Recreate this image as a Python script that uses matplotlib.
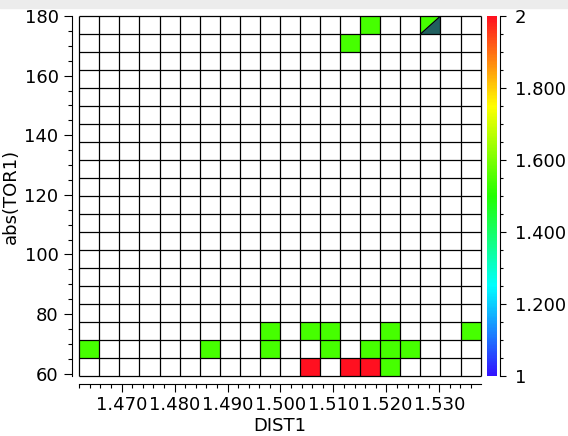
import numpy as np
import matplotlib
matplotlib.use('Agg')
import matplotlib.pyplot as plt
from matplotlib.colors import LinearSegmentedColormap
from matplotlib.patches import Rectangle
from matplotlib.ticker import MultipleLocator, FixedLocator, FixedFormatter

# bins of the 2d histogram
dist_start = 1.4620
dist_step = 0.00379
tor_start = 59.2
tor_step = 6.04
n_cols = 20
n_rows = 20

# filled cells (column index, row index, value)
cell_col = [11, 13, 14, 15, 0, 6, 9, 12, 14, 15, 16, 9, 11, 12, 15, 19, 13, 14]
cell_row = [0, 0, 0, 0, 1, 1, 1, 1, 1, 1, 1, 2, 2, 2, 2, 2, 18, 19]
cell_val = [2.0, 2.0, 2.0, 1.54, 1.54, 1.54, 1.54, 1.54, 1.54, 1.54, 1.54,
            1.54, 1.54, 1.54, 1.54, 1.54, 1.54, 1.54]

# the odd split cell in the top row
split_col = 17
split_row = 19
split_val = 1.54
split_other = '#215f5f'

x_ticks = [1.470, 1.480, 1.490, 1.500, 1.510, 1.520, 1.530]
y_ticks = [60, 80, 100, 120, 140, 160, 180]
cb_ticks = [1.0, 1.2, 1.4, 1.6, 1.8, 2.0]
cb_labels = ['1', '1.200', '1.400', '1.600', '1.800', '2']

cmap = LinearSegmentedColormap.from_list('rainbow_cb', [
    (0.0, '#3311ff'), (0.25, '#00ffff'), (0.5, '#22ff00'),
    (0.75, '#ffff00'), (1.0, '#ff1020')])
cmap.set_bad('white')

x_edges = dist_start + dist_step * np.arange(n_cols + 1)
y_edges = tor_start + tor_step * np.arange(n_rows + 1)

grid = np.full((n_rows, n_cols), np.nan)
for c, r, v in zip(cell_col, cell_row, cell_val):
    grid[r, c] = v
grid = np.ma.masked_invalid(grid)

plt.rcParams['font.size'] = 13
fig = plt.figure(figsize=(5.68, 4.36), dpi=100)
fig.patches.append(Rectangle((0, 1 - 8 / 436), 1, 8 / 436,
                             transform=fig.transFigure, color='#ececec', zorder=-1))

ax = fig.add_axes([79.3 / 568, 1 - 376 / 436, 401.3 / 568, 360 / 436])
mesh = ax.pcolormesh(x_edges, y_edges, grid, cmap=cmap, vmin=1, vmax=2,
                     edgecolors='none', linewidth=0)

# split cell drawn as two triangles
x0, x1 = x_edges[split_col], x_edges[split_col + 1]
y0, y1 = y_edges[split_row], y_edges[split_row + 1]
ax.fill([x0, x0, x1], [y0, y1, y1], color=cmap((split_val - 1) / 1.0), lw=0)
ax.fill([x0, x1, x1], [y0, y0, y1], color=split_other, lw=0)
ax.plot([x0, x1], [y0, y1], color='black', lw=0.8)

# cell borders
ax.vlines(x_edges, y_edges[0], y_edges[-1], color='black', lw=0.9, snap=True, clip_on=False)
ax.hlines(y_edges, x_edges[0], x_edges[-1], color='black', lw=0.9, snap=True, clip_on=False)

ax.set_xlim(x_edges[0], x_edges[-1])
ax.set_ylim(y_edges[0], y_edges[-1])

for s in ['top', 'right']:
    ax.spines[s].set_visible(False)
for s in ['left', 'bottom']:
    ax.spines[s].set_position(('outward', 5.4))
    ax.spines[s].set_linewidth(0.8)

ax.xaxis.set_major_locator(FixedLocator(x_ticks))
ax.xaxis.set_major_formatter(FixedFormatter(['%.3f' % t for t in x_ticks]))
ax.xaxis.set_minor_locator(MultipleLocator(0.002))
ax.yaxis.set_major_locator(FixedLocator(y_ticks))
ax.yaxis.set_minor_locator(MultipleLocator(5))
ax.tick_params(which='major', length=5.5, width=0.8)
ax.tick_params(which='minor', length=2.9, width=0.8)
ax.tick_params(axis='y', pad=4)

ax.set_xlabel('DIST1', labelpad=2)
ax.set_ylabel('abs(TOR1)', labelpad=3)

cax = fig.add_axes([487.3 / 568, 1 - 376 / 436, 10 / 568, 360 / 436])
cb = fig.colorbar(mesh, cax=cax)
cb.outline.set_visible(False)
cax.spines['right'].set_visible(True)
cax.spines['right'].set_position(('outward', 2))
cax.spines['right'].set_linewidth(0.8)
cax.yaxis.set_major_locator(FixedLocator(cb_ticks))
cax.yaxis.set_major_formatter(FixedFormatter(cb_labels))
cax.yaxis.set_minor_locator(MultipleLocator(0.05))
cax.tick_params(which='major', length=4.5, width=0.8, pad=6)
cax.tick_params(which='minor', length=2.5, width=0.8)

fig.savefig('out.png', dpi=100)
